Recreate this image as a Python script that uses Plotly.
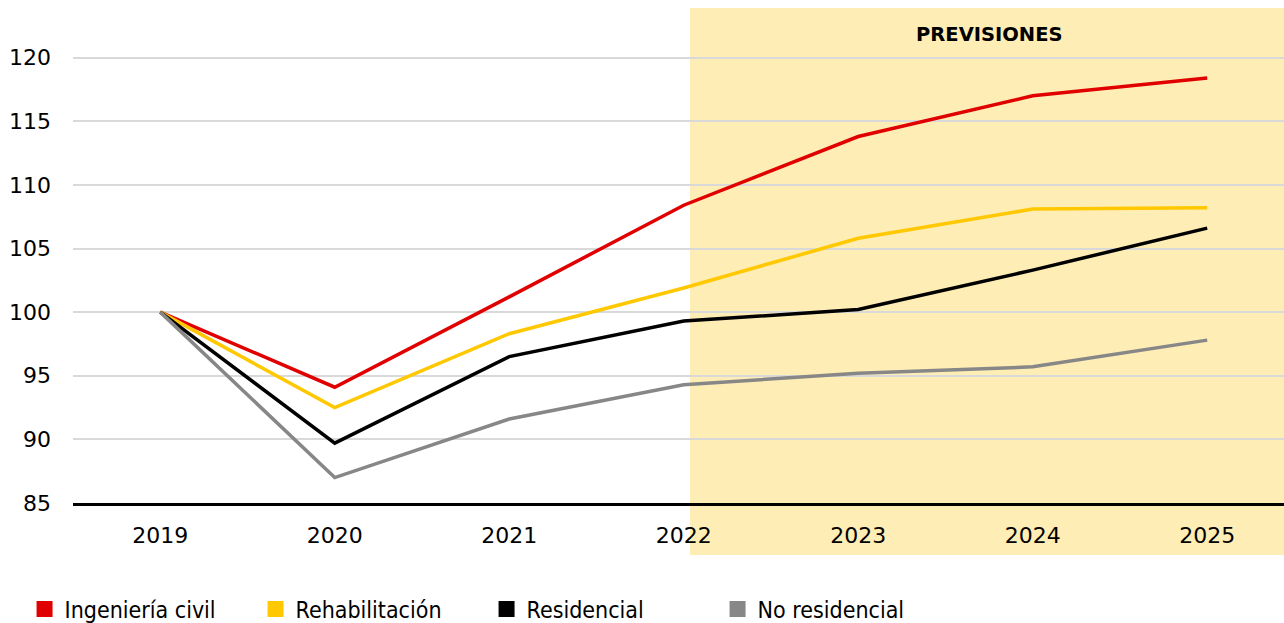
import plotly.graph_objects as go

years = [2019, 2020, 2021, 2022, 2023, 2024, 2025]
ingenieria_civil = [100, 94.1, 101.2, 108.4, 113.8, 117.0, 118.4]
rehabilitacion = [100, 92.5, 98.3, 101.9, 105.8, 108.1, 108.2]
residencial = [100, 89.7, 96.5, 99.3, 100.2, 103.3, 106.6]
no_residencial = [100, 87.0, 91.6, 94.3, 95.2, 95.7, 97.8]

series_names = ["Ingeniería civil", "Rehabilitación", "Residencial", "No residencial"]
series_values = [ingenieria_civil, rehabilitacion, residencial, no_residencial]
colors = ["#E00000", "#FFC800", "#000000", "#878787"]

y_ticks = [85, 90, 95, 100, 105, 110, 115, 120]
forecast_label = "PREVISIONES"

fig = go.Figure()

for name, vals, col in zip(series_names, series_values, colors):
    fig.add_trace(go.Scatter(
        x=years, y=vals, mode="lines", name=name,
        line=dict(color=col, width=3.5), showlegend=False,
    ))

for name, col in zip(series_names, colors):
    fig.add_trace(go.Scatter(
        x=[None], y=[None], mode="markers", name=name,
        marker=dict(symbol="square", size=22, color=col),
        showlegend=True,
    ))

fig.add_shape(type="rect", xref="paper", yref="paper",
              x0=0.5095, x1=1.0, y0=-0.105, y1=1.0,
              fillcolor="#FEEDB5", line=dict(width=0), layer="below")

fig.add_annotation(text="<b>" + forecast_label + "</b>", xref="paper", yref="paper",
                   x=0.757, y=0.947, xanchor="center", yanchor="middle", showarrow=False,
                   font=dict(family="DejaVu Sans", size=19.5, color="#000000"))

fig.update_layout(
    width=1284, height=623,
    margin=dict(l=73, r=0, t=8, b=120, autoexpand=False),
    paper_bgcolor="white", plot_bgcolor="rgba(0,0,0,0)",
    font=dict(family="DejaVu Sans", color="#000000"),
    legend=dict(orientation="h", x=-0.04, y=-0.214, xanchor="left", yanchor="middle",
                font=dict(family="DejaVu Sans Condensed, Liberation Sans Narrow", size=23, color="#000000"),
                entrywidth=186, entrywidthmode="pixels",
                itemsizing="trace", bgcolor="rgba(0,0,0,0)"),
    xaxis=dict(range=[2018.5, 2025.44], tickvals=years, tickformat="d",
               showgrid=False, zeroline=False, showline=True, linecolor="#000000", linewidth=3,
               ticks="", tickfont=dict(size=22, family="DejaVu Sans"), ticklabelstandoff=11),
    yaxis=dict(range=[85, 123.9], tickvals=y_ticks, showgrid=True, gridcolor="#D9D9D9", gridwidth=1.5,
               zeroline=False, showline=False, ticks="",
               tickfont=dict(size=22, family="DejaVu Sans"), ticklabelstandoff=21),
)

fig.write_html(
    "out.html",
    config={"displayModeBar": False},
    post_script="document.body.style.margin='0';document.documentElement.style.overflow='hidden';",
)
